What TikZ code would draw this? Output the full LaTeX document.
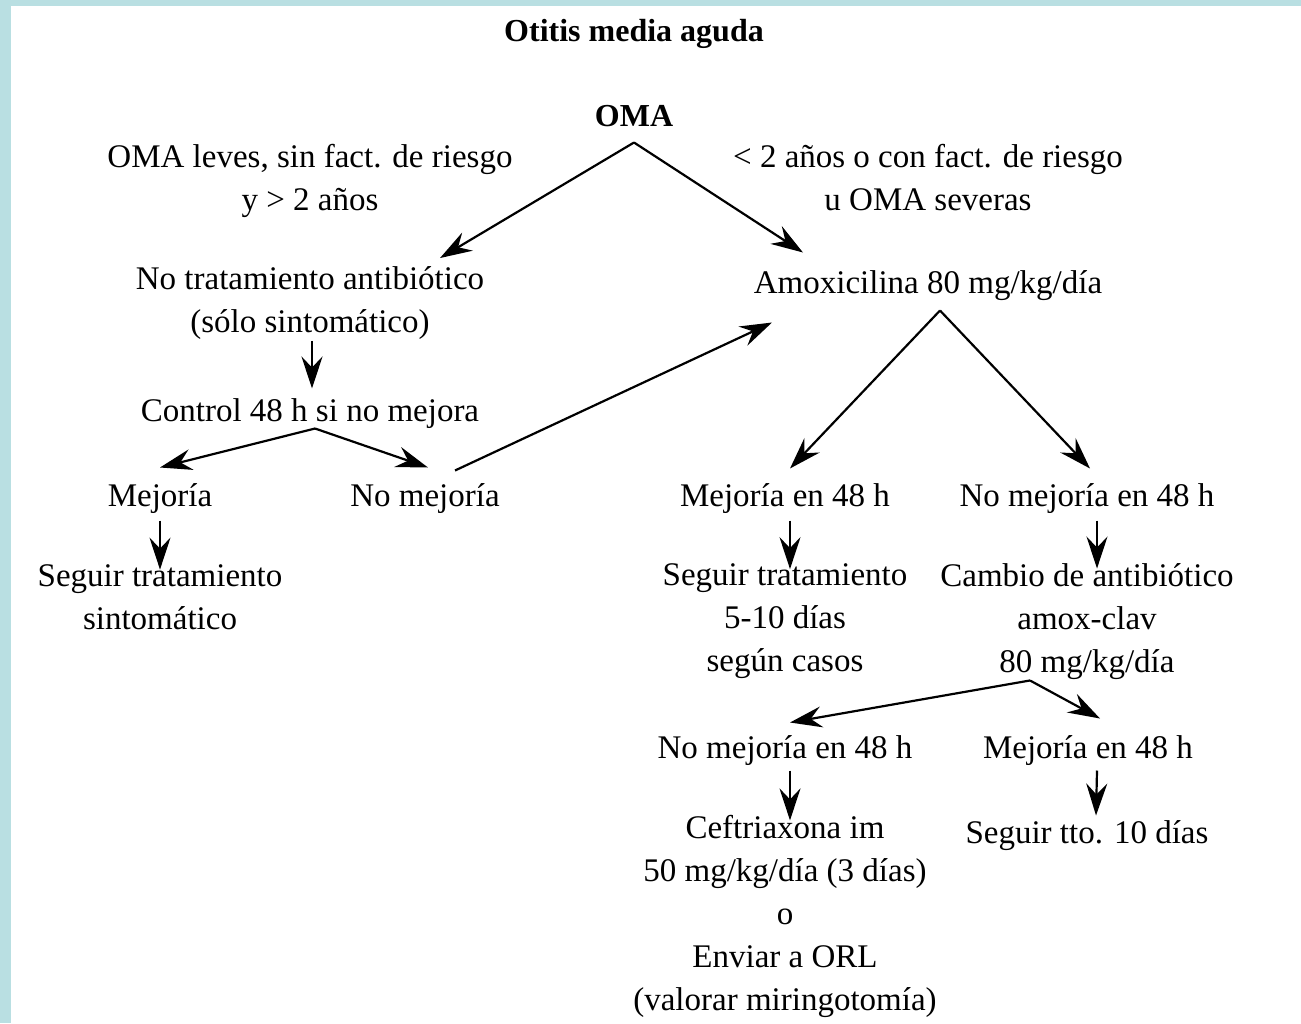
\documentclass[tikz,border=0pt]{standalone}
\usepackage{fontspec}
\setmainfont{Liberation Serif}
\usetikzlibrary{arrows.meta,calc}
\definecolor{framecyan}{HTML}{B9DFE2}

\begin{document}
\begin{tikzpicture}[
    x=0.5pt, y=-0.5pt,
    line width=1.1pt,
    % Plain text lines, no frame around them
    txt/.style={
        inner sep=0pt,
        outer sep=0pt,
        align=center,
        font=\fontsize{16.5}{21.5}\selectfont,
        execute at begin node=\rule{0pt}{17.5pt},
        execute at end node=\rule[-4pt]{0pt}{4pt},
        },
    head/.style={txt, font=\fontsize{16}{21.5}\selectfont\bfseries},
    flow/.style={-{Stealth[length=16pt,width=10.5pt,inset=5.5pt]}},
    ]
    \fill[framecyan] (0,0) rectangle (1301,1023);
    \fill[white] (11,6) rectangle (1301,1023);
    \useasboundingbox (0,0) rectangle (1301,1023);

    \node [head] (title) at (634,28) {Otitis media aguda};
    \node [head] (oma) at (634,113) {OMA};
    \node [txt] (leves) at (310,181) {OMA leves, sin fact. de riesgo\\y > 2 años};
    \node [txt] (riesgo) at (928,181) {< 2 años o con fact. de riesgo\\u OMA severas};
    \node [txt] (notrat) at (310,304) {No tratamiento antibiótico\\(sólo sintomático)};
    \node [txt] (amox) at (928,280) {Amoxicilina 80 mg/kg/día};
    \node [txt] (control) at (310,408) {Control 48 h si no mejora};
    \node [txt] (mej) at (160,493) {Mejoría};
    \node [txt] (nomej) at (425,493) {No mejoría};
    \node [txt] (mej48) at (785,493) {Mejoría en 48 h};
    \node [txt] (nomej48) at (1087,493) {No mejoría en 48 h};
    \node [txt] (sintom) at (160,601) {Seguir tratamiento\\sintomático};
    \node [txt] (seguir) at (785,622) {Seguir tratamiento\\5-10 días\\según casos};
    \node [txt] (cambio) at (1087,622) {Cambio de antibiótico\\amox-clav\\80 mg/kg/día};
    \node [txt] (nomej2) at (785,745) {No mejoría en 48 h};
    \node [txt] (mej2) at (1088,745) {Mejoría en 48 h};
    \node [txt] (ceftri) at (785,917) {Ceftriaxona im\\50 mg/kg/día (3 días)\\o\\Enviar a ORL\\(valorar miringotomía)};
    \node [txt] (tto) at (1087,830) {Seguir tto. 10 días};

    \draw [flow] ($(oma.south)+(0,8)$) -- ($(notrat.north)+(130,-9)$);
    \draw [flow] ($(oma.south)+(0,8)$) -- ($(amox.north)+(-125,-6)$);
    \draw [flow] ($(notrat.south)+(2,0)$) -- ($(control.north)+(2,2)$);
    \draw [flow] ($(control.south)+(5,-1)$) -- ($(mej.north)+(0,-4)$);
    \draw [flow] ($(control.south)+(5,-1)$) -- ($(nomej.north)+(3,-4)$);
    \draw [flow] ($(nomej.north)+(30,-1)$) -- ($(amox.south)+(-156,21)$);
    \draw [flow] ($(amox.south)+(12,9)$) -- ($(mej48.north)+(5,-3)$);
    \draw [flow] ($(amox.south)+(12,9)$) -- ($(nomej48.north)+(3,-3)$);
    \draw [flow] ($(mej.south)+(0,6)$) -- ($(sintom.north)+(0,5)$);
    \draw [flow] ($(mej48.south)+(5,6)$) -- ($(seguir.north)+(5,5)$);
    \draw [flow] ($(nomej48.south)+(10,6)$) -- ($(cambio.north)+(10,5)$);
    \draw [flow] ($(cambio.south)+(-57,0)$) -- ($(nomej2.north)+(5,-1)$);
    \draw [flow] ($(cambio.south)+(-57,0)$) -- ($(mej2.north)+(12,-5)$);
    \draw [flow] ($(nomej2.south)+(5,4)$) -- ($(ceftri.north)+(5,5)$);
    \draw [flow] ($(mej2.south)+(9,4)$) -- ($(tto.north)+(9,7)$);

\end{tikzpicture}
\end{document}
